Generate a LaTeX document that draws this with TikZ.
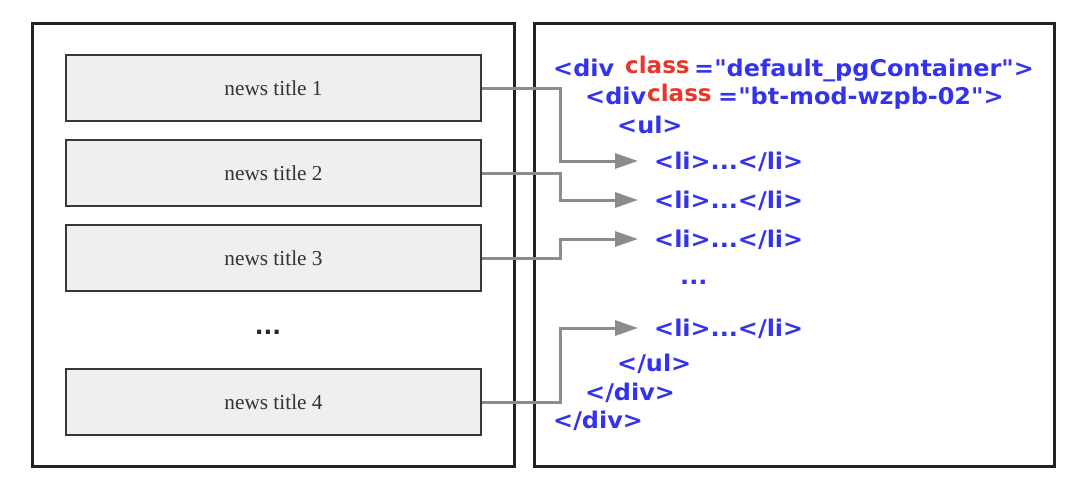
\documentclass[tikz,border=0pt]{standalone}
\usepackage{fontspec}
\setmainfont{Liberation Serif}
\newfontfamily\codefont{DejaVu Sans}
\usetikzlibrary{arrows.meta}
\definecolor{codeblue}{RGB}{51,51,238}
\definecolor{codered}{RGB}{232,55,42}
\definecolor{boxfill}{RGB}{239,239,239}
\definecolor{linkgray}{RGB}{140,140,140}
\definecolor{framec}{RGB}{34,34,38}
\tikzset{
  panel/.style={draw=framec, line width=3pt},
  newsbox/.style={draw=framec!90, fill=boxfill, line width=1.4pt, minimum width=415pt, minimum height=66pt, inner sep=0pt, font=\fontsize{21.3}{21}\selectfont, text=black!80},
  code/.style={anchor=base west, inner sep=0pt, xscale=1.04, text=codeblue, font=\codefont\bfseries\fontsize{23}{23}\selectfont},
  attr/.style={anchor=base west, inner sep=0pt, xscale=1.0, text=codered, font=\codefont\bfseries\fontsize{23}{23}\selectfont},
  link/.style={draw=linkgray, line width=3pt, -{Triangle[length=23pt,width=15pt]}},
}
\begin{document}
\begin{tikzpicture}[x=1pt,y=-1pt]
\useasboundingbox (0,0) rectangle (1084,498);
\draw[panel] (32,23) rectangle (514,466);
\draw[panel] (534,23) rectangle (1054,466);
\node[newsbox] (n1) at (273.5,88) {news title 1};
\node[newsbox] (n2) at (273.5,173) {news title 2};
\node[newsbox] (n3) at (273.5,258) {news title 3};
\node[newsbox] (n4) at (273.5,402) {news title 4};
\node[font=\codefont\bfseries\fontsize{23}{23}\selectfont, text=black!85, inner sep=0pt] (ell) at (268,332) {...};
% code
\node[code] (d1) at (553,76) {<div};
\node[attr] (c1) at (625,73) {class};
\node[code] (v1) at (694,76) {="default\_pgContainer">};
\node[code] (d2) at (585,104) {<div};
\node[attr] (c2) at (647,101) {class};
\node[code] (v2) at (718,104) {="bt-mod-wzpb-02">};
\node[code] (ul) at (617,133) {<ul>};
\node[code] (l1) at (654,169) {<li>...</li>};
\node[code] (l2) at (654,208) {<li>...</li>};
\node[code] (l3) at (654,247) {<li>...</li>};
\node[code] (le) at (680,284) {...};
\node[code] (l4) at (654,336) {<li>...</li>};
\node[code] (eul) at (617,371) {</ul>};
\node[code] (ed2) at (585,400) {</div>};
\node[code] (ed1) at (553,428) {</div>};
% arrow targets
\coordinate (t1) at (638,161);
\coordinate (t2) at (638,200);
\coordinate (t3) at (638,239);
\coordinate (t4) at (638,328);
\draw[link] (n1.east) -- (560,88) |- (t1);
\draw[link] (n2.east) -- (560,173) |- (t2);
\draw[link] (n3.east) -- (560,258) |- (t3);
\draw[link] (n4.east) -- (560,402) |- (t4);
\end{tikzpicture}
\end{document}
